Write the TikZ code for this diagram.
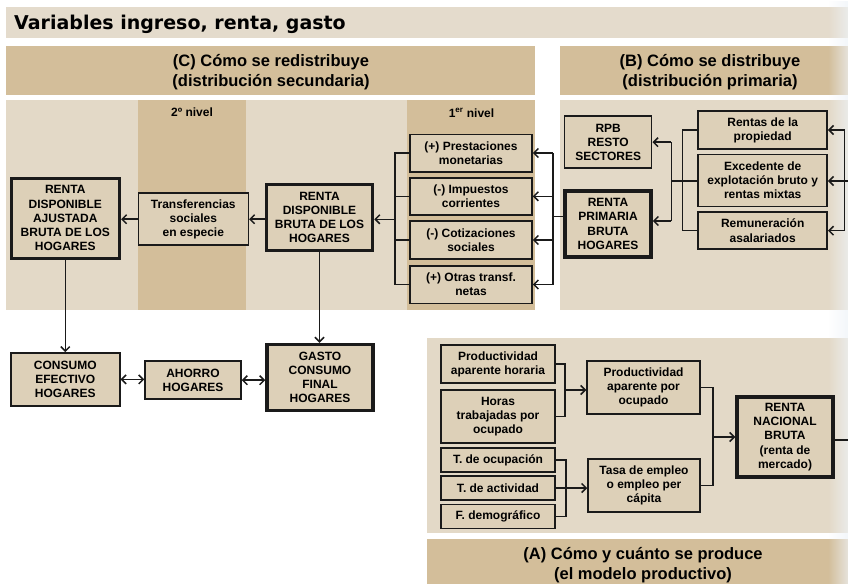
\documentclass[tikz,border=0pt]{standalone}
\usepackage{fontspec}
\setmainfont{Liberation Sans}
\newfontfamily\titlefont{DejaVu Sans}
\usetikzlibrary{arrows.meta,fadings}
\definecolor{bglight}{HTML}{E3D9C7}
\definecolor{bgdark}{HTML}{D3BE9A}
\definecolor{boxfill}{HTML}{DDD0B8}
\definecolor{titlebg}{HTML}{E4DBCC}
\definecolor{linec}{HTML}{1A1A1A}
\definecolor{fadec}{HTML}{EEF3F8}
\begin{document}
\begin{tikzpicture}[x=1pt,y=-1pt,
  every node/.style={inner sep=0pt, align=center},
  box/.style={draw=linec, fill=boxfill, line width=1.5pt, font=\bfseries\fontsize{12}{14.2}\selectfont},
  thickbox/.style={box, line width=3.5pt},
  conn/.style={draw=linec, line width=1.5pt},
  arr/.style={conn, -{Straight Barb[length=4.5pt,width=9pt]}},
  darr/.style={conn, {Straight Barb[length=4.5pt,width=9pt]}-{Straight Barb[length=4.5pt,width=9pt]}},
  hdr/.style={font=\bfseries\fontsize{16.5}{20}\selectfont},
  lvl/.style={font=\bfseries\fontsize{12}{14}\selectfont}
]
\useasboundingbox (0,0) rectangle (848,584);
\fill[white] (0,0) rectangle (848,584);
% backgrounds
\fill[titlebg] (6,7) rectangle (848,38);
\fill[bgdark] (6,46) rectangle (535,95);
\fill[bgdark] (560,46) rectangle (848,95);
\fill[bglight] (6,100) rectangle (535,310);
\fill[bgdark] (138,100) rectangle (246,310);
\fill[bgdark] (407,100) rectangle (535,310);
\fill[bglight] (560,100) rectangle (848,310);
\fill[bglight] (427,338) rectangle (848,533);
\fill[bgdark] (427,539) rectangle (848,584);
\fill[fadec, path fading=west, fill opacity=0.7] (828,0) rectangle (848,584);

% headings
\node[anchor=base west, font=\titlefont\bfseries\fontsize{19}{22}\selectfont] (title) at (14,29.5) {Variables ingreso, renta, gasto};
\node[hdr] (hc) at (271,72) {(C) Cómo se redistribuye\\(distribución secundaria)};
\node[hdr] (hb) at (710,72) {(B) Cómo se distribuye\\(distribución primaria)};
\node[hdr] (ha) at (643,565) {(A) Cómo y cuánto se produce\\(el modelo productivo)};
\node[lvl] (n2) at (192,112) {2º nivel};
\node[lvl] (n1) at (471.5,113) {1\textsuperscript{er} nivel};

% C boxes
\node[thickbox, minimum width=108pt, minimum height=80pt] (rdab) at (65.3,218.3) {RENTA\\DISPONIBLE\\AJUSTADA\\BRUTA DE LOS\\HOGARES};
\node[box, minimum width=110pt, minimum height=52pt] (trans) at (193.3,219.2) {Transferencias\\sociales\\en especie};
\node[thickbox, minimum width=106pt, minimum height=66pt] (rdb) at (319.5,217.5) {RENTA\\DISPONIBLE\\BRUTA DE LOS\\HOGARES};
\node[box, minimum width=122pt, minimum height=37.5pt] (prest) at (471,153) {(+) Prestaciones\\monetarias};
\node[box, minimum width=122pt, minimum height=37pt] (imp) at (471,196.3) {(-) Impuestos\\corrientes};
\node[box, minimum width=122pt, minimum height=38pt] (cot) at (471,240) {(-) Cotizaciones\\sociales};
\node[box, minimum width=122pt, minimum height=37.5pt] (otras) at (471,284.5) {(+) Otras transf.\\netas};

% B boxes
\node[box, minimum width=87pt, minimum height=52pt] (rpb) at (608.2,142.2) {RPB\\RESTO\\SECTORES};
\node[thickbox, minimum width=86pt, minimum height=66pt] (rpbh) at (608,223.9) {RENTA\\PRIMARIA\\BRUTA\\HOGARES};
\node[box, minimum width=129pt, minimum height=38pt] (rentas) at (762.7,130) {Rentas de la\\propiedad};
\node[box, minimum width=129pt, minimum height=52pt] (exc) at (762.7,180.5) {Excedente de\\explotación bruto y\\rentas mixtas};
\node[box, minimum width=129pt, minimum height=37pt] (rem) at (762.7,230.7) {Remuneración\\asalariados};

% lower C boxes
\node[box, minimum width=109pt, minimum height=53pt] (ceh) at (65.3,379.4) {CONSUMO\\EFECTIVO\\HOGARES};
\node[box, minimum width=96pt, minimum height=38pt] (aho) at (193,380.2) {AHORRO\\HOGARES};
\node[thickbox, minimum width=106pt, minimum height=66pt] (gasto) at (320,377.5) {GASTO\\CONSUMO\\FINAL\\HOGARES};

% A boxes
\node[box, minimum width=114pt, minimum height=38pt] (pah) at (498,364) {Productividad\\aparente horaria};
\node[box, minimum width=114pt, minimum height=53pt] (htp) at (498,416.5) {Horas\\trabajadas por\\ocupado};
\node[box, minimum width=114pt, minimum height=24pt] (toc) at (498,460) {T. de ocupación};
\node[box, minimum width=114pt, minimum height=24pt] (tac) at (498,488) {T. de actividad};
\node[box, minimum width=114pt, minimum height=24pt] (fdem) at (498,516.5) {F. demográfico};
\node[box, minimum width=113pt, minimum height=53pt] (pao) at (643.5,387.5) {Productividad\\aparente por\\ocupado};
\node[box, minimum width=112pt, minimum height=53pt] (tasa) at (644,485.5) {Tasa de empleo\\o empleo per\\cápita};
\node[thickbox, minimum width=96pt, minimum height=80pt] (rnb) at (785,437) {RENTA\\NACIONAL\\BRUTA\\(renta de\\mercado)};

% coordinates
\coordinate (lb) at (395,219.3);
\coordinate (rb) at (553,216.7);
\coordinate (bb) at (671.3,181);
\coordinate (bb2) at (671.3,221);
\coordinate (bc) at (682.7,181);
\coordinate (rbb) at (844.7,181);
\coordinate (rbend) at (852,181);
\coordinate (rnbo) at (834,440);
\coordinate (rnbend) at (852,440);
\coordinate (ab1) at (565,390);
\coordinate (ab2) at (566,488);
\coordinate (ab3) at (713,437);

% C connectors
\draw[arr] (trans.west) -- (trans.west -| rdab.east);
\draw[arr] (trans.east -| rdb.west) -- (trans.east);
\draw[conn] (prest.west) -- (prest.west -| lb) -- (otras.west -| lb) -- (otras.west);
\draw[conn] (imp.west) -- (imp.west -| lb);
\draw[conn] (cot.west) -- (cot.west -| lb);
\draw[arr] (lb) -- (lb -| rdb.east);
\draw[conn] (prest.east -| rb) -- (otras.east -| rb);
\draw[arr] (prest.east -| rb) -- (prest.east);
\draw[arr] (imp.east -| rb) -- (imp.east);
\draw[arr] (cot.east -| rb) -- (cot.east);
\draw[arr] (otras.east -| rb) -- (otras.east);
\draw[conn] (rb -| rpbh.west) -- (rb);

% B connectors
\draw[conn] (bb |- rpb.east) -- (bb2);
\draw[arr] (bb |- rpb.east) -- (rpb.east);
\draw[arr] (bb2) -- (bb2 -| rpbh.east);
\draw[conn] (bb) -- (bb -| exc.west);
\draw[conn] (rentas.west) -- (rentas.west -| bc) -- (rem.west -| bc) -- (rem.west);
\draw[conn] (rentas.east -| rbb) -- (rem.east -| rbb);
\draw[arr] (rentas.east -| rbb) -- (rentas.east);
\draw[arr] (rbb) -- (rbb -| exc.east);
\draw[arr] (rem.east -| rbb) -- (rem.east);
\draw[conn] (rbend) -- (rbb);

% lower C connectors
\draw[arr] (rdab.south) -- (ceh.north);
\draw[arr] (rdb.south) -- (rdb.south |- gasto.north);
\draw[darr] (ceh.east) -- (ceh.east -| aho.west);
\draw[darr] (aho.east) -- (aho.east -| gasto.west);

% A connectors
\draw[conn] (pah.east) -- (pah.east -| ab1) -- (htp.east -| ab1) -- (htp.east);
\draw[arr] (ab1) -- (ab1 -| pao.west);
\draw[conn] (toc.east) -- (toc.east -| ab2) -- (fdem.east -| ab2) -- (fdem.east);
\draw[arr] (tac.east) -- (tac.east -| tasa.west);
\draw[conn] (pao.east) -- (pao.east -| ab3) -- (tasa.east -| ab3) -- (tasa.east);
\draw[arr] (ab3) -- (ab3 -| rnb.west);
\draw[conn] (rnbo) -- (rnbend);
\end{tikzpicture}
\end{document}
